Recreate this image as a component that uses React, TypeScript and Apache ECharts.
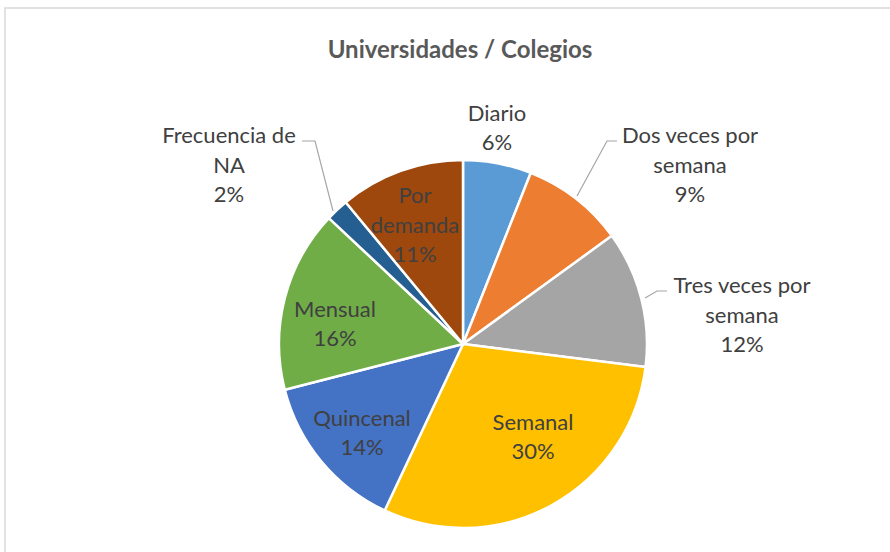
import React, { useEffect, useRef } from "react";
import * as echarts from "echarts";

const TITLE = "Universidades / Colegios";
const categories = [
  "Diario",
  "Dos veces por semana",
  "Tres veces por semana",
  "Semanal",
  "Quincenal",
  "Mensual",
  "Frecuencia de NA",
  "Por demanda",
];
const values = [6, 9, 12, 30, 14, 16, 2, 11];
const labelTexts = [
  "Diario",
  "Dos veces por\nsemana",
  "Tres veces por\nsemana",
  "Semanal",
  "Quincenal",
  "Mensual",
  "Frecuencia de\nNA",
  "Por\ndemanda",
];
const colors = ["#5B9BD5", "#ED7D31", "#A5A5A5", "#FFC000", "#4472C4", "#70AD47", "#255E91", "#9E480E"];
const outside = [true, true, true, false, false, false, true, false];

// label layout (pixel positions of label centres and leader lines)
const LABEL_POS: number[][] = [
  [497, 127],
  [690, 164],
  [742, 314],
  [533, 436],
  [362, 432],
  [335, 323],
  [229, 164],
  [415, 224],
];
const LEADERS: (number[][] | null)[] = [
  null,
  [[577, 196], [607, 141], [617, 141]],
  [[645, 298], [657, 291], [667, 291]],
  null,
  null,
  null,
  [[333, 211], [315, 141], [302, 141]],
  null,
];

export default function App() {
  const ref = useRef<HTMLDivElement>(null);
  useEffect(() => {
    if (!ref.current) return;
    const chart = echarts.init(ref.current, undefined, { renderer: "svg" });
    const total = values.reduce((a, b) => a + b, 0);
    chart.setOption({
      animation: false,
      backgroundColor: "#ffffff",
      title: {
        text: TITLE,
        left: 455,
        top: 31,
        textAlign: "center",
        textStyle: { fontFamily: "Lato", fontWeight: "bold", fontSize: 24, color: "#595959" },
      },
      graphic: [
        {
          type: "rect",
          shape: { x: 5, y: 8, width: 900, height: 560 },
          style: { fill: "none", stroke: "#d9d9d9", lineWidth: 1.5 },
          silent: true,
        },
      ],
      series: [
        {
          type: "pie",
          center: [463, 344],
          radius: 184,
          startAngle: 90,
          clockwise: true,
          itemStyle: { borderColor: "#ffffff", borderWidth: 2.5 },
          label: {
            fontFamily: "Lato",
            fontSize: 22,
            lineHeight: 29.5,
            color: "#404040",
            align: "center",
            formatter: (p: any) =>
              labelTexts[p.dataIndex] + "\n" + Math.round((p.value / total) * 100) + "%",
          },
          labelLine: { lineStyle: { color: "#a6a6a6", width: 1.2 }, smooth: false },
          labelLayout: (params: any) => {
            const i = params.dataIndex;
            const pos = LABEL_POS[i];
            const res: any = { x: pos[0], y: pos[1], align: "center", verticalAlign: "middle" };
            if (LEADERS[i]) res.labelLinePoints = LEADERS[i];
            return res;
          },
          data: categories.map((c, i) => ({
            name: c,
            value: values[i],
            itemStyle: { color: colors[i] },
            label: { position: outside[i] ? "outside" : "inside" },
            labelLine: { show: !!LEADERS[i] },
          })),
        },
      ],
    });
    return () => chart.dispose();
  }, []);
  return (
    <div
      ref={ref}
      style={{ position: "absolute", left: 0, top: 0, width: 890, height: 552 }}
    />
  );
}
